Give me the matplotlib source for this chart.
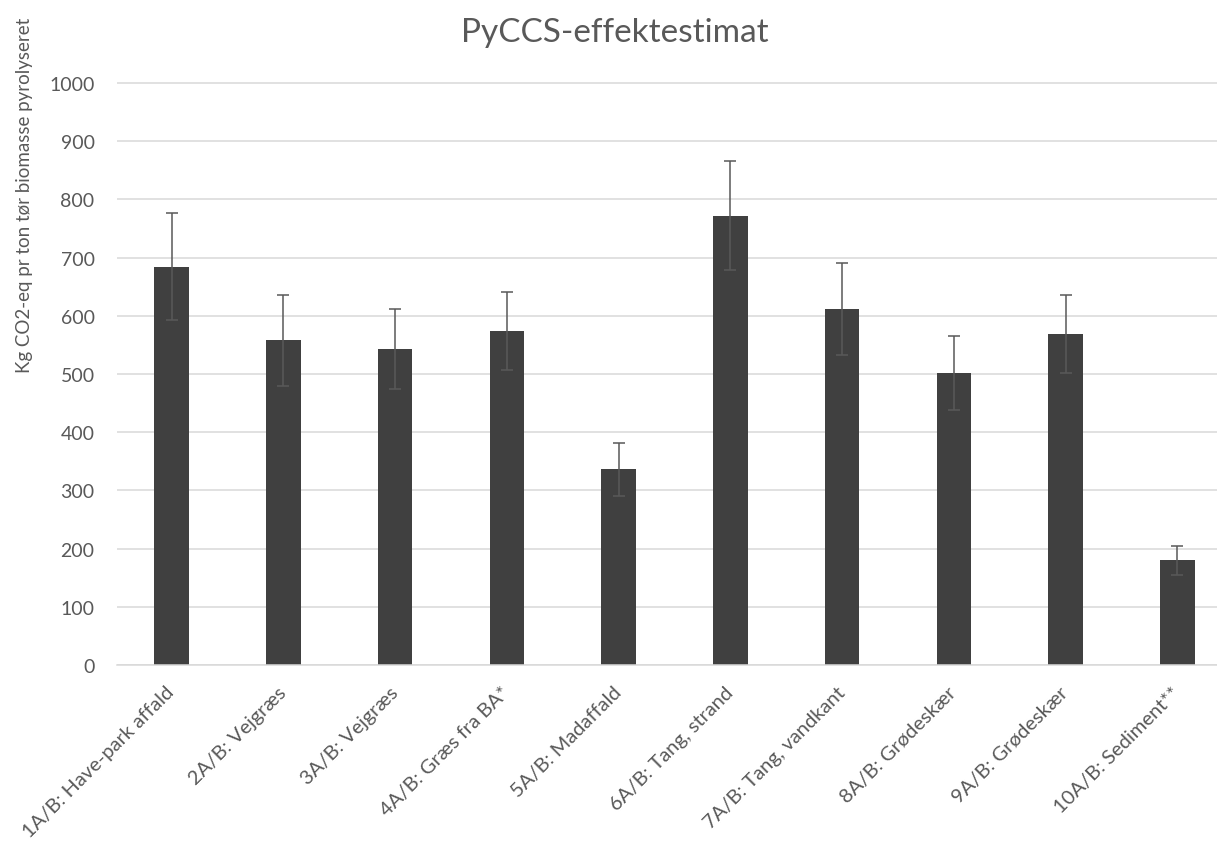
import matplotlib
matplotlib.use('Agg')
import matplotlib.pyplot as plt
import matplotlib.transforms as mtransforms
import numpy as np

# values
categories = ['1A/B: Have-park affald', '2A/B: Vejgræs', '3A/B: Vejgræs', '4A/B: Græs fra BA*',
              '5A/B: Madaffald', '6A/B: Tang, strand', '7A/B: Tang, vandkant', '8A/B: Grødeskær',
              '9A/B: Grødeskær', '10A/B: Sediment**']
values = [684, 558, 543, 574, 336, 772, 612, 502, 568, 180]
errors = [92, 78, 68, 67, 46, 94, 79, 63, 67, 25]
yticks = [0, 100, 200, 300, 400, 500, 600, 700, 800, 900, 1000]

plt.rcParams['font.family'] = ['Lato', 'DejaVu Sans']
text_col = '#595959'
grid_col = '#d9d9d9'

fig = plt.figure(figsize=(12.17, 8.53), dpi=100)
ax = fig.add_axes([0.096, 0.2192, 0.91, 0.6857])

x = np.arange(len(categories))
ax.bar(x, values, width=0.31, color='#404040', zorder=2)
ax.errorbar(x, values, yerr=errors, fmt='none', ecolor=text_col, elinewidth=1.1,
            capsize=4.5, capthick=1.1, zorder=3)

ax.set_xlim(-0.49, 9.42)
ax.set_ylim(0, 1005)
ax.set_yticks(yticks)
ax.set_xticks(x)
ax.set_xticklabels(categories, rotation=45, ha='right', fontsize=14.5, color=text_col)
ax.tick_params(axis='y', length=0, pad=16, labelsize=14, labelcolor=text_col)
ax.tick_params(axis='x', length=0, pad=13)
# nudge the rotated labels a little to the right, like the original
shift = mtransforms.ScaledTranslation(0.06, 0, fig.dpi_scale_trans)
for lbl in ax.get_xticklabels():
    lbl.set_transform(lbl.get_transform() + shift)
ax.yaxis.grid(True, color=grid_col, linewidth=1.1, zorder=0)
ax.set_axisbelow(True)
for s in ['top', 'right', 'left']:
    ax.spines[s].set_visible(False)
ax.spines['bottom'].set_color(grid_col)
ax.spines['bottom'].set_linewidth(1.1)

# axis title sits high up on the left, as in the original
fig.text(0.020, 0.771, 'Kg CO2-eq pr ton tør biomasse pyrolyseret', rotation=90,
         ha='center', va='center', fontsize=13.5, color=text_col)
fig.text(0.505, 0.9508, 'PyCCS-effektestimat', ha='center', va='baseline', fontsize=24, color=text_col)

plt.savefig('out.png', dpi=100)
